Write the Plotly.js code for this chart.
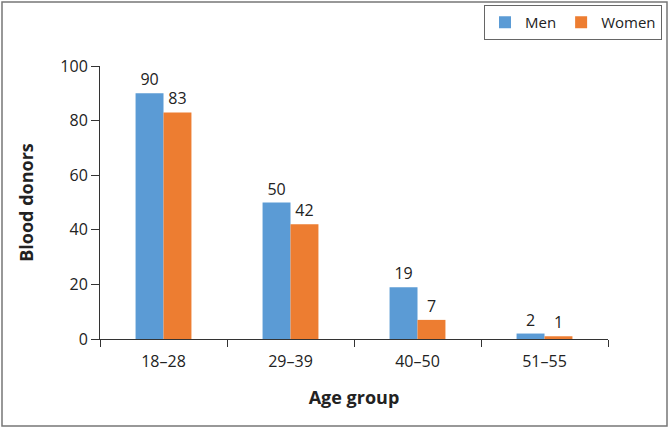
<!DOCTYPE html>
<html lang="en">
<head>
    <meta charset="UTF-8">
    <title>Blood donors by age group</title>
    <script src="https://cdn.plot.ly/plotly-3.0.1.min.js"></script>
    <style>
        body { margin: 0; padding: 0; background: #fff; }
        #chart { width: 670px; height: 429px; }
    </style>
</head>
<body>
    <div id="chart"></div>
    <script>
        // Data
        const ageGroups = ['18–28', '29–39', '40–50', '51–55'];
        const men = [90, 50, 19, 2];
        const women = [83, 42, 7, 1];

        const W = 670, H = 429;
        const m = { l: 100, r: 62, t: 66, b: 90, autoexpand: false };
        const pw = W - m.l - m.r, ph = H - m.t - m.b;
        // pixel -> paper coords (pixels measured from top-left of the page)
        const px = v => (v - m.l) / pw;
        const py = v => (H - m.b - v) / ph;

        const labelFont = { family: 'Open Sans, sans-serif', size: 16, color: '#222' };

        const traceMen = {
            x: ageGroups, y: men, type: 'bar', name: 'Men',
            marker: { color: '#5B9BD5' },
            text: men.map(String), textposition: 'outside',
            textfont: labelFont, cliponaxis: false
        };
        const traceWomen = {
            x: ageGroups, y: women, type: 'bar', name: 'Women',
            marker: { color: '#ED7D31' },
            text: women.map(String), textposition: 'outside',
            textfont: labelFont, cliponaxis: false
        };

        const layout = {
            width: W, height: H,
            margin: m,
            barmode: 'group',
            bargap: 0.56,
            bargroupgap: 0,
            paper_bgcolor: '#fff',
            plot_bgcolor: '#fff',
            font: { family: 'Open Sans, sans-serif', size: 16, color: '#222' },
            xaxis: {
                title: { text: '<b>Age group</b>', font: { size: 18, color: '#222' }, standoff: 20 },
                tickson: 'boundaries',
                ticks: 'outside', ticklen: 7, tickcolor: '#333',
                ticklabelstandoff: 8,
                showline: true, linecolor: '#333', linewidth: 1,
                showgrid: false, zeroline: false
            },
            yaxis: {
                title: { text: '<b>Blood donors</b>', font: { size: 18, color: '#222' }, standoff: 22 },
                range: [0, 100], dtick: 20,
                ticks: 'outside', ticklen: 8, tickcolor: '#333',
                showline: true, linecolor: '#333', linewidth: 1,
                showgrid: false, zeroline: false
            },
            showlegend: true,
            legend: {
                orientation: 'h',
                x: px(662), xanchor: 'right',
                y: py(40), yanchor: 'bottom',
                bordercolor: '#666', borderwidth: 1,
                font: { size: 15, color: '#222' },
                itemwidth: 30
            },
            shapes: [{
                type: 'rect', xref: 'paper', yref: 'paper',
                x0: px(2), x1: px(667), y0: py(2), y1: py(426),
                line: { color: '#777', width: 1.5 }, layer: 'below'
            }]
        };

        Plotly.newPlot('chart', [traceMen, traceWomen], layout, { displayModeBar: false });
    </script>
</body>
</html>
